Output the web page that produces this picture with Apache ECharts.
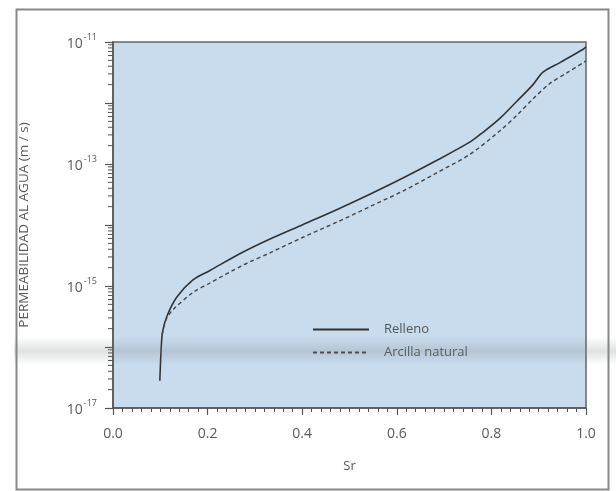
<!DOCTYPE html>
<html>
<head>
<meta charset="utf-8">
<script src="https://cdn.jsdelivr.net/npm/echarts@6/dist/echarts.min.js"></script>
<style>
  html, body { margin: 0; padding: 0; background: #ffffff; }
  #chart { width: 616px; height: 491px; }
</style>
</head>
<body>
<div id="chart"></div>
<script>
// Degree of saturation (Sr) and water permeability (m/s)
const srRelleno = [0.099, 0.102, 0.105, 0.114, 0.135, 0.169, 0.205, 0.275, 0.332, 0.402,
  0.474, 0.543, 0.613, 0.685, 0.755, 0.782, 0.818, 0.854, 0.888, 0.909, 0.945, 0.994, 1.0];
const kRelleno = [2.8e-17, 1.0e-16, 1.8e-16, 3.2e-16, 6.6e-16, 1.26e-15, 1.8e-15, 3.6e-15, 5.9e-15, 1.02e-14,
  1.8e-14, 3.2e-14, 5.9e-14, 1.15e-13, 2.3e-13, 3.3e-13, 5.6e-13, 1.07e-12, 2.0e-12, 3.2e-12, 4.6e-12, 7.6e-12, 8.3e-12];

const srArcilla = [0.104, 0.112, 0.127, 0.169, 0.205, 0.275, 0.332, 0.402, 0.474, 0.543,
  0.613, 0.685, 0.755, 0.818, 0.854, 0.888, 0.924, 0.962, 1.0];
const kArcilla = [1.6e-16, 2.8e-16, 4.1e-16, 7.8e-16, 1.12e-15, 2.2e-15, 3.5e-15, 6.3e-15, 1.12e-14, 2.0e-14,
  3.6e-14, 7.2e-14, 1.45e-13, 3.5e-13, 6.3e-13, 1.17e-12, 2.1e-12, 3.2e-12, 4.9e-12];

const seriesNames = ['Relleno', 'Arcilla natural'];
const xTickLabels = ['0.0', '0.2', '0.4', '0.6', '0.8', '1.0'];
const yLabelExponents = [-17, -15, -13, -11];

// minor log ticks (2..9 within each decade)
const minorLogTicks = [];
for (let e = -17; e < -11; e++) {
  for (let k = 2; k <= 9; k++) minorLogTicks.push([0, k * Math.pow(10, e)]);
}

const pair = (xs, ys) => xs.map((x, i) => [x, ys[i]]);
const ink = '#5a5a5a';
const font = 'Open Sans';

const chart = echarts.init(document.getElementById('chart'), null, { renderer: 'canvas' });
chart.setOption({
  animation: false,
  backgroundColor: '#ffffff',
  textStyle: { fontFamily: font },
  grid: {
    left: 113, right: 30, top: 42, bottom: 83,
    show: true, backgroundColor: '#c9dcee', borderColor: '#666', borderWidth: 1.5
  },
  legend: {
    data: seriesNames,
    orient: 'vertical',
    left: 307, top: 318,
    itemWidth: 56, itemHeight: 10, itemGap: 10,
    itemStyle: { opacity: 0 },
    textStyle: { color: '#555', fontSize: 13, fontFamily: font, padding: [0, 0, 0, 10] }
  },
  xAxis: {
    type: 'value', min: 0, max: 1, interval: 0.2,
    name: 'Sr', nameLocation: 'middle', nameGap: 52,
    nameTextStyle: { color: ink, fontSize: 13, fontFamily: font },
    axisLine: { show: true, lineStyle: { color: '#555', width: 1.5 } },
    axisTick: { show: true, inside: false, length: 7, lineStyle: { color: '#555', width: 1.2 } },
    minorTick: { show: true, splitNumber: 10, length: 4, lineStyle: { color: '#555', width: 1 } },
    splitLine: { show: false },
    axisLabel: {
      color: ink, fontSize: 14, margin: 19,
      formatter: v => xTickLabels[Math.round(v / 0.2)] || ''
    }
  },
  yAxis: {
    type: 'log', logBase: 10, min: 1e-17, max: 1e-11, interval: 1,
    name: 'PERMEABILIDAD AL AGUA (m / s)', nameLocation: 'middle', nameGap: 82,
    nameTextStyle: { color: ink, fontSize: 13.5, fontFamily: font },
    axisLine: { show: true, lineStyle: { color: '#555', width: 1.5 } },
    axisTick: { show: true, inside: false, length: 8, lineStyle: { color: '#555', width: 1.2 } },
    minorTick: { show: false },
    splitLine: { show: false },
    axisLabel: {
      margin: 16,
      formatter: v => {
        const e = Math.round(Math.log10(v));
        return yLabelExponents.includes(e) ? '{b|10}{s|' + e + '}' : '';
      },
      rich: {
        b: { color: ink, fontSize: 14, fontFamily: font, verticalAlign: 'bottom', lineHeight: 18 },
        s: { color: ink, fontSize: 9, fontFamily: font, verticalAlign: 'top', lineHeight: 18, padding: [0, 0, 0, 1] }
      }
    }
  },
  series: [
    {
      name: seriesNames[0], type: 'line', data: pair(srRelleno, kRelleno),
      showSymbol: false, symbol: 'none', smooth: 0.3,
      lineStyle: { color: '#333', width: 1.6, type: 'solid' },
      itemStyle: { color: '#333' }, z: 5
    },
    {
      name: seriesNames[1], type: 'line', data: pair(srArcilla, kArcilla),
      showSymbol: false, symbol: 'none', smooth: 0.3,
      lineStyle: { color: '#444', width: 1.4, type: [4, 3] },
      itemStyle: { color: '#444' }, z: 5
    },
    {
      // minor ticks of the logarithmic axis
      type: 'custom', silent: true, clip: false, z: 6,
      data: minorLogTicks,
      renderItem: (params, api) => {
        const p = api.coord([api.value(0), api.value(1)]);
        return {
          type: 'line',
          shape: { x1: p[0] - 5, y1: p[1], x2: p[0], y2: p[1] },
          style: { stroke: '#555', lineWidth: 1 }
        };
      }
    }
  ],
  graphic: [
    {
      type: 'rect', left: 14, top: 7, z: 0, silent: true,
      shape: { width: 592, height: 480 },
      style: { fill: 'none', stroke: '#888', lineWidth: 2 }
    },
    {
      type: 'rect', left: 14, top: 337, z: 100, silent: true,
      shape: { width: 602, height: 28 },
      style: {
        fill: new echarts.graphic.LinearGradient(0, 0, 0, 1, [
          { offset: 0, color: 'rgba(110,115,120,0)' },
          { offset: 0.5, color: 'rgba(110,115,120,0.22)' },
          { offset: 1, color: 'rgba(110,115,120,0)' }
        ])
      }
    }
  ]
});
</script>
</body>
</html>
